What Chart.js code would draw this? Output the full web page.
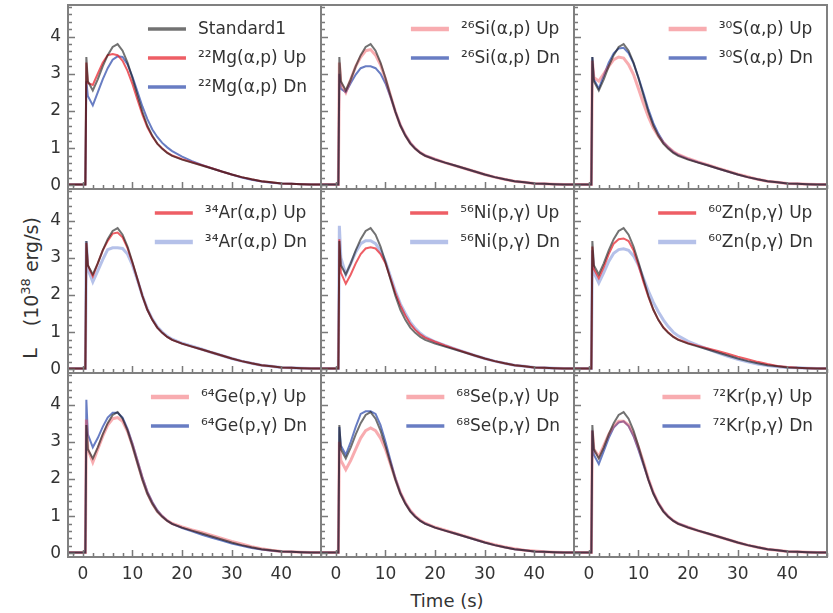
<!DOCTYPE html>
<html>
<head>
<meta charset="utf-8">
<title>Curvas de luz</title>
<script src="https://cdn.jsdelivr.net/npm/chart.js@4.4.1/dist/chart.umd.min.js"></script>
<style>
    body { margin: 0; background: #fff; font-family: "DejaVu Sans", sans-serif; }
    #fig { position: relative; width: 833px; height: 613px; overflow: hidden; }
    #fig canvas { position: absolute; }
    .ytitle {
        position: absolute; left: 30px; top: 288px;
        transform: translate(-50%, -50%) rotate(-90deg);
        white-space: nowrap; font-size: 19px; color: #333;
    }
    .ytitle sup { font-size: 13px; }
    .xtitle {
        position: absolute; left: 447px; top: 600px;
        transform: translate(-50%, -50%);
        white-space: nowrap; font-size: 18px; color: #333;
    }
</style>
</head>
<body>
<div id="fig">
    <div class="ytitle"><span style="margin-right:22px">L</span>(10<sup>38</sup> erg/s)</div>
    <div class="xtitle">Time (s)</div>
</div>
<script>
// Tiempo (s) común a todas las curvas
const time = [-3, 0.5, 0.7, 1, 2, 3, 4, 5, 6, 7, 8, 9, 10, 11, 12, 13, 14, 15, 16, 17, 18,
    20, 22, 24, 26, 28, 30, 32, 34, 36, 38, 40, 42, 44, 46, 48];

// Luminosidad (1e38 erg/s)
const standard1 = [0.02, 0.02, 3.45, 2.8, 2.55, 2.85, 3.2, 3.5, 3.72, 3.8, 3.62, 3.3, 2.88, 2.42, 1.97, 1.6, 1.33, 1.12, 0.98, 0.87, 0.79, 0.69, 0.61, 0.53, 0.45, 0.37, 0.29, 0.22, 0.16, 0.11, 0.08, 0.05, 0.04, 0.03, 0.02, 0.02];

const mg22Up = [0.02, 0.02, 3.3, 2.75, 2.7, 3.0, 3.3, 3.5, 3.53, 3.5, 3.35, 3.08, 2.72, 2.3, 1.9, 1.56, 1.31, 1.12, 0.99, 0.88, 0.8, 0.7, 0.62, 0.54, 0.46, 0.37, 0.29, 0.22, 0.16, 0.11, 0.08, 0.05, 0.04, 0.03, 0.02, 0.02];
const mg22Dn = [0.02, 0.02, 2.8, 2.4, 2.15, 2.5, 2.85, 3.15, 3.38, 3.47, 3.45, 3.25, 2.92, 2.52, 2.12, 1.78, 1.5, 1.3, 1.14, 1.02, 0.92, 0.77, 0.65, 0.55, 0.46, 0.37, 0.29, 0.21, 0.15, 0.1, 0.07, 0.05, 0.04, 0.03, 0.02, 0.02];

const si26Up = [0.02, 0.02, 3.3, 2.75, 2.5, 2.85, 3.2, 3.45, 3.62, 3.65, 3.5, 3.24, 2.86, 2.42, 1.98, 1.62, 1.35, 1.14, 0.99, 0.88, 0.8, 0.7, 0.61, 0.53, 0.45, 0.37, 0.29, 0.22, 0.16, 0.11, 0.08, 0.05, 0.04, 0.03, 0.02, 0.02];
const si26Dn = [0.02, 0.02, 3.0, 2.6, 2.5, 2.75, 2.98, 3.15, 3.2, 3.2, 3.15, 3.0, 2.74, 2.38, 1.98, 1.62, 1.35, 1.14, 0.99, 0.88, 0.8, 0.7, 0.61, 0.53, 0.45, 0.37, 0.29, 0.22, 0.16, 0.11, 0.08, 0.05, 0.04, 0.03, 0.02, 0.02];

const s30Up = [0.02, 0.02, 3.35, 2.9, 2.8, 3.0, 3.2, 3.38, 3.45, 3.42, 3.25, 2.98, 2.6, 2.2, 1.84, 1.54, 1.32, 1.15, 1.02, 0.91, 0.83, 0.72, 0.63, 0.55, 0.46, 0.38, 0.3, 0.23, 0.16, 0.11, 0.08, 0.05, 0.04, 0.03, 0.02, 0.02];
const s30Dn = [0.02, 0.02, 3.45, 2.85, 2.6, 2.95, 3.3, 3.55, 3.68, 3.7, 3.56, 3.28, 2.9, 2.48, 2.04, 1.67, 1.39, 1.17, 1.02, 0.9, 0.82, 0.71, 0.62, 0.54, 0.45, 0.37, 0.29, 0.22, 0.16, 0.11, 0.08, 0.05, 0.04, 0.03, 0.02, 0.02];

const ar34Up = [0.02, 0.02, 3.4, 2.8, 2.5, 2.85, 3.2, 3.45, 3.65, 3.68, 3.55, 3.26, 2.86, 2.42, 1.97, 1.6, 1.33, 1.12, 0.98, 0.87, 0.79, 0.69, 0.61, 0.53, 0.45, 0.37, 0.29, 0.22, 0.16, 0.11, 0.08, 0.05, 0.04, 0.03, 0.02, 0.02];
const ar34Dn = [0.02, 0.02, 3.45, 2.7, 2.35, 2.65, 2.95, 3.22, 3.27, 3.27, 3.25, 3.1, 2.8, 2.4, 1.98, 1.62, 1.35, 1.14, 1.0, 0.89, 0.81, 0.7, 0.62, 0.54, 0.45, 0.37, 0.29, 0.22, 0.16, 0.11, 0.08, 0.05, 0.04, 0.03, 0.02, 0.02];

const ni56Up = [0.02, 0.02, 3.5, 2.6, 2.3, 2.55, 2.85, 3.1, 3.25, 3.28, 3.25, 3.1, 2.85, 2.45, 2.05, 1.72, 1.45, 1.22, 1.06, 0.94, 0.85, 0.74, 0.64, 0.55, 0.46, 0.37, 0.29, 0.22, 0.16, 0.11, 0.08, 0.05, 0.04, 0.03, 0.02, 0.02];
const ni56Dn = [0.02, 0.02, 3.86, 3.0, 2.55, 2.85, 3.15, 3.38, 3.46, 3.46, 3.38, 3.18, 2.9, 2.5, 2.1, 1.76, 1.5, 1.27, 1.1, 0.97, 0.87, 0.74, 0.64, 0.55, 0.46, 0.37, 0.29, 0.22, 0.16, 0.11, 0.08, 0.05, 0.04, 0.03, 0.02, 0.02];

const zn60Up = [0.02, 0.02, 3.3, 2.7, 2.45, 2.75, 3.1, 3.38, 3.5, 3.52, 3.45, 3.2, 2.8, 2.35, 1.95, 1.6, 1.33, 1.13, 0.99, 0.88, 0.8, 0.7, 0.63, 0.56, 0.49, 0.42, 0.34, 0.27, 0.2, 0.14, 0.09, 0.06, 0.04, 0.03, 0.02, 0.02];
const zn60Dn = [0.02, 0.02, 3.2, 2.6, 2.32, 2.6, 2.9, 3.12, 3.22, 3.24, 3.2, 3.05, 2.8, 2.45, 2.1, 1.8, 1.55, 1.33, 1.15, 1.0, 0.9, 0.75, 0.64, 0.54, 0.44, 0.35, 0.27, 0.2, 0.14, 0.1, 0.07, 0.05, 0.04, 0.03, 0.02, 0.02];

const ge64Up = [0.02, 0.02, 3.6, 2.8, 2.45, 2.8, 3.15, 3.45, 3.62, 3.65, 3.55, 3.28, 2.9, 2.45, 2.0, 1.62, 1.34, 1.13, 0.99, 0.88, 0.8, 0.71, 0.63, 0.56, 0.48, 0.4, 0.32, 0.25, 0.18, 0.12, 0.08, 0.05, 0.04, 0.03, 0.02, 0.02];
const ge64Dn = [0.02, 0.02, 4.13, 3.2, 2.85, 3.1, 3.4, 3.65, 3.78, 3.78, 3.65, 3.35, 2.95, 2.5, 2.05, 1.66, 1.38, 1.16, 1.0, 0.88, 0.79, 0.68, 0.59, 0.5, 0.42, 0.34, 0.26, 0.2, 0.14, 0.1, 0.07, 0.05, 0.04, 0.03, 0.02, 0.02];

const se68Up = [0.02, 0.02, 3.0, 2.5, 2.25, 2.5, 2.8, 3.1, 3.3, 3.37, 3.3, 3.1, 2.8, 2.4, 2.0, 1.63, 1.36, 1.15, 1.0, 0.89, 0.81, 0.7, 0.62, 0.54, 0.46, 0.38, 0.3, 0.23, 0.17, 0.12, 0.08, 0.06, 0.04, 0.03, 0.02, 0.02];
const se68Dn = [0.02, 0.02, 3.4, 2.9, 2.65, 3.0, 3.4, 3.75, 3.82, 3.82, 3.75, 3.45, 3.0, 2.5, 2.02, 1.63, 1.35, 1.14, 0.99, 0.88, 0.8, 0.69, 0.61, 0.53, 0.45, 0.37, 0.29, 0.22, 0.16, 0.11, 0.08, 0.05, 0.04, 0.03, 0.02, 0.02];

const kr72Up = [0.02, 0.02, 3.3, 2.8, 2.6, 2.9, 3.2, 3.42, 3.55, 3.55, 3.45, 3.2, 2.85, 2.45, 2.0, 1.63, 1.35, 1.14, 0.99, 0.88, 0.8, 0.7, 0.61, 0.53, 0.45, 0.37, 0.29, 0.22, 0.16, 0.11, 0.08, 0.05, 0.04, 0.03, 0.02, 0.02];
const kr72Dn = [0.02, 0.02, 3.3, 2.65, 2.4, 2.75, 3.1, 3.38, 3.52, 3.55, 3.42, 3.15, 2.78, 2.38, 1.98, 1.62, 1.35, 1.14, 0.99, 0.88, 0.8, 0.7, 0.61, 0.53, 0.45, 0.37, 0.29, 0.22, 0.16, 0.11, 0.08, 0.05, 0.04, 0.03, 0.02, 0.02];

// Reacciones de cada panel (fila por fila)
const reactions = ['²²Mg(α,p)', '²⁶Si(α,p)', '³⁰S(α,p)', '³⁴Ar(α,p)', '⁵⁶Ni(p,γ)', '⁶⁰Zn(p,γ)',
    '⁶⁴Ge(p,γ)', '⁶⁸Se(p,γ)', '⁷²Kr(p,γ)'];
const upSeries = [mg22Up, si26Up, s30Up, ar34Up, ni56Up, zn60Up, ge64Up, se68Up, kr72Up];
const dnSeries = [mg22Dn, si26Dn, s30Dn, ar34Dn, ni56Dn, zn60Dn, ge64Dn, se68Dn, kr72Dn];

// Ejes
const xMin = -3, xMax = 48, xStep = 10, xMinor = 2;
const yMin = -0.1, yMax = 4.85, yStep = 1, yMinor = 0.2;

// Estilos de línea
const styles = {
    std: { color: 'rgba(20, 20, 20, 0.6)', width: 2 },
    upStrong: { color: 'rgba(232, 40, 50, 0.75)', width: 2 },
    upLight: { color: 'rgba(240, 70, 80, 0.45)', width: 3 },
    dnStrong: { color: 'rgba(40, 70, 170, 0.7)', width: 2 },
    dnLight: { color: 'rgba(70, 100, 200, 0.4)', width: 3 }
};
const upStyle = ['upStrong', 'upLight', 'upLight', 'upStrong', 'upStrong', 'upStrong', 'upLight', 'upLight', 'upLight'];
const dnStyle = ['dnStrong', 'dnStrong', 'dnStrong', 'dnLight', 'dnLight', 'dnLight', 'dnStrong', 'dnStrong', 'dnStrong'];

// Geometría de la rejilla 3x3
const colX = [68, 321, 574];
const rowY = [5, 189, 373];
const plotW = 253, plotH = 184;
const padL = 50, padB = 40, padT = 4, padR = 4;
const FONT = '"DejaVu Sans", sans-serif';

const toPoints = arr => time.map((t, i) => ({ x: t, y: arr[i] }));

// Marco y marcas de los ejes hacia dentro
const frameTicks = {
    id: 'frameTicks',
    afterDraw(chart) {
        const { ctx, chartArea: a, scales: { x, y } } = chart;
        ctx.save();
        ctx.strokeStyle = '#7a7a7a';
        ctx.lineWidth = 1.5;
        ctx.beginPath();
        for (let t = Math.ceil(xMin / xMinor) * xMinor; t <= xMax; t += xMinor) {
            const px = Math.round(x.getPixelForValue(t)) + 0.5;
            const len = t % xStep === 0 ? 7 : 4;
            ctx.moveTo(px, a.bottom);
            ctx.lineTo(px, a.bottom - len);
        }
        for (let k = 0; k * yMinor <= yMax; k++) {
            const py = Math.round(y.getPixelForValue(k * yMinor)) + 0.5;
            const len = k % 5 === 0 ? 7 : 4;
            ctx.moveTo(a.left, py);
            ctx.lineTo(a.left + len, py);
        }
        ctx.stroke();
        ctx.strokeStyle = '#808080';
        ctx.lineWidth = 2;
        ctx.strokeRect(a.left, a.top, a.right - a.left, a.bottom - a.top);
        ctx.restore();
    }
};

// Leyenda dentro del panel, arriba a la derecha
const makeLegend = items => ({
    id: 'panelLegend',
    afterDraw(chart) {
        const { ctx, chartArea: a } = chart;
        ctx.save();
        ctx.font = '17px ' + FONT;
        ctx.textBaseline = 'middle';
        const maxW = Math.max(...items.map(it => ctx.measureText(it.label).width));
        const textX = a.right - 14 - maxW;
        items.forEach((it, i) => {
            const yy = a.top + 24 + i * 29;
            ctx.strokeStyle = it.color;
            ctx.lineWidth = it.width + 1.5;
            ctx.beginPath();
            ctx.moveTo(textX - 50, yy);
            ctx.lineTo(textX - 12, yy);
            ctx.stroke();
            ctx.fillStyle = '#333';
            ctx.fillText(it.label, textX, yy + 1);
        });
        ctx.restore();
    }
});

const fig = document.getElementById('fig');

reactions.forEach((name, p) => {
    const row = Math.floor(p / 3), col = p % 3;
    const canvas = document.createElement('canvas');
    canvas.width = plotW + padL + padR;
    canvas.height = plotH + padT + padB;
    canvas.style.left = (colX[col] - padL) + 'px';
    canvas.style.top = (rowY[row] - padT) + 'px';
    fig.appendChild(canvas);

    const up = styles[upStyle[p]];
    const dn = styles[dnStyle[p]];
    const series = [
        { label: 'Standard1', data: standard1, st: styles.std },
        { label: name + ' Up', data: upSeries[p], st: up },
        { label: name + ' Dn', data: dnSeries[p], st: dn }
    ];
    // Solo el primer panel muestra Standard1 en la leyenda
    const legendItems = series
        .filter((s, i) => p === 0 || i > 0)
        .map(s => ({ label: s.label, color: s.st.color, width: s.st.width }));

    new Chart(canvas.getContext('2d'), {
        type: 'line',
        data: {
            datasets: series.map(s => ({
                label: s.label,
                data: toPoints(s.data),
                borderColor: s.st.color,
                borderWidth: s.st.width,
                pointRadius: 0,
                tension: 0,
                fill: false
            }))
        },
        options: {
            responsive: false,
            animation: false,
            events: [],
            layout: { padding: { top: padT, right: padR, left: 0, bottom: 0 } },
            plugins: { legend: { display: false }, tooltip: { enabled: false } },
            scales: {
                x: {
                    type: 'linear', min: xMin, max: xMax,
                    grid: { display: false, drawTicks: false },
                    border: { display: false },
                    ticks: {
                        display: row === 2, stepSize: xStep, includeBounds: false,
                        autoSkip: false, maxRotation: 0, padding: 7,
                        color: '#333', font: { family: FONT, size: 17 }
                    },
                    // tamaño fijo para que todos los paneles midan lo mismo
                    afterFit: s => {
                        s.height = padB;
                        s.paddingLeft = 0;
                        s.paddingRight = 0;
                    }
                },
                y: {
                    type: 'linear', min: yMin, max: yMax,
                    grid: { display: false, drawTicks: false },
                    border: { display: false },
                    ticks: {
                        display: col === 0, stepSize: yStep, includeBounds: false,
                        autoSkip: false, padding: 7,
                        color: '#333', font: { family: FONT, size: 17 }
                    },
                    afterFit: s => {
                        s.width = padL;
                        s.paddingTop = 0;
                        s.paddingBottom = 0;
                    }
                }
            }
        },
        plugins: [frameTicks, makeLegend(legendItems)]
    });
});
</script>
</body>
</html>
